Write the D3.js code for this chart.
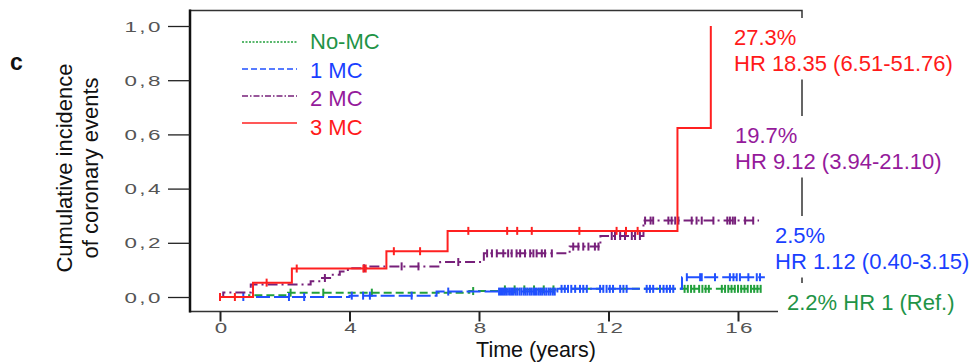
<!DOCTYPE html>
<html>
<head>
<meta charset="utf-8">
<script src="https://cdn.jsdelivr.net/npm/d3@7"></script>
<style>
  body { margin: 0; background: #fff; }
  svg { display: block; font-family: "Liberation Sans", Arial, sans-serif; }
</style>
</head>
<body>
<div id="chart"></div>
<script>
// series: step points [time, cumulative incidence] and censoring times
var groups = ["No-MC", "1 MC", "2 MC", "3 MC"];

var noMcSteps = [[0, 0], [0.9, 0.006], [2.1, 0.016], [7.7, 0.022], [8.7, 0.028], [10.5, 0.03], [16.78, 0.03]];
var oneMcSteps = [[0, 0], [4.0, 0.005], [6.69, 0.02], [10.42, 0.03], [14.27, 0.073], [16.83, 0.073]];
var twoMcSteps = [[0, 0], [0.1, 0.017], [0.95, 0.046], [2.8, 0.058], [3.1, 0.07], [3.4, 0.082], [3.7, 0.094],
  [3.95, 0.106], [4.55, 0.113], [6.8, 0.129], [8.15, 0.161], [10.8, 0.186], [11.75, 0.225], [13.08, 0.282], [16.65, 0.282]];
var threeMcSteps = [[0, 0], [1.02, 0.053], [2.22, 0.105], [5.14, 0.169], [7.03, 0.244], [14.13, 0.624], [15.16, 1.0]];

var noMcCensor = [2.18, 3.19, 4.69, 7.82, 8.8, 9.1, 9.4, 9.7, 10.0, 10.3, 14.35, 14.45, 14.55, 14.65, 14.8, 14.9, 15.0, 15.1,
  15.5, 15.6, 15.7, 15.8, 15.9, 16.0, 16.1, 16.2, 16.3, 16.4, 16.5, 16.6, 16.7];
var oneMcCensor = [0.72, 2.13, 2.6, 4.07, 4.42, 4.63, 5.92, 7.05,
  8.62, 8.68, 8.74, 8.8, 8.86, 8.93, 8.99, 9.05, 9.12, 9.18, 9.25, 9.31, 9.38, 9.44, 9.5, 9.57, 9.63, 9.7,
  9.76, 9.83, 9.89, 9.95, 10.02, 10.08, 10.15, 10.21, 10.28, 10.34,
  10.55, 10.65, 10.75, 10.85, 10.97, 11.12, 11.22, 11.33, 11.74, 11.84, 11.94, 12.04, 12.14, 12.36, 12.46, 12.56,
  13.18, 13.28, 13.38, 13.59, 13.7, 13.8, 13.9, 14.0,
  14.42, 14.83, 14.88, 15.29, 15.75, 15.86, 15.96, 16.06, 16.32, 16.58, 16.68];
var twoMcCensor = [3.24, 4.45, 5.61, 6.13, 7.36, 8.25, 8.4, 8.55, 8.75, 8.9, 9.01, 9.16, 9.27, 9.42, 9.58, 9.68, 9.78, 9.94,
  10.04, 10.25, 10.91, 11.07, 11.22, 11.38, 11.58, 11.69, 12.1, 12.2, 12.36, 12.51, 12.72, 12.82, 12.97,
  13.13, 13.3, 13.38, 13.85, 13.95, 14.06, 14.16, 14.57, 14.72, 14.88, 15.24, 15.67, 15.75, 15.84, 15.91, 16.22, 16.47];
var threeMcCensor = [0, 0.46, 1.44, 2.37, 4.43, 4.5, 5.37, 6.18, 7.67, 8.87, 9.18, 9.63, 11.1, 12.25, 12.54, 12.9];

var endLabels = [
  ["27.3%", "HR 18.35 (6.51-51.76)"],
  ["19.7%", "HR 9.12 (3.94-21.10)"],
  ["2.5%", "HR 1.12 (0.40-3.15)"],
  ["2.2% HR 1 (Ref.)"]
];

var xTicks = [0, 4, 8, 12, 16];
var yTicks = [0, 0.2, 0.4, 0.6, 0.8, 1.0];

var width = 970, height = 362;

var svg = d3.select("#chart").append("svg")
  .attr("width", width)
  .attr("height", height);

var x = d3.scaleLinear().domain([0, 16]).range([220, 738]);
var y = d3.scaleLinear().domain([0, 1]).range([297, 26]);

var frame = { left: 190, right: 802, top: 10.5, bottom: 311.5 };

var series = [
  { steps: noMcSteps, censor: noMcCensor, color: "#22a03c", dash: "8,4", legendDash: "2,1.5", text: "#1f9447" },
  { steps: oneMcSteps, censor: oneMcCensor, color: "#2050ff", dash: "14,4", legendDash: "6,3", text: "#1a3fff" },
  { steps: twoMcSteps, censor: twoMcCensor, color: "#77207a", dash: "10,4,2,4", legendDash: "6,2,1.5,2", text: "#951a9b" },
  { steps: threeMcSteps, censor: threeMcCensor, color: "#ff2020", dash: null, legendDash: null, text: "#ff1a1a" }
];

// frame
svg.append("path")
  .attr("d", "M" + frame.left + "," + frame.top + "H" + frame.right + "V" + frame.bottom + "H" + frame.left + "Z")
  .attr("fill", "none")
  .attr("stroke", "#333")
  .attr("stroke-width", 1.5);
svg.append("line")
  .attr("x1", frame.left).attr("x2", frame.left)
  .attr("y1", frame.top - 1).attr("y2", frame.bottom + 1)
  .attr("stroke", "#111")
  .attr("stroke-width", 2.5);

// axes
var yAxis = d3.axisLeft(y)
  .tickValues(yTicks)
  .tickSize(22)
  .tickFormat(function(d) { return d.toFixed(1).replace(".", ","); });

var gy = svg.append("g")
  .attr("transform", "translate(" + frame.left + ",0)")
  .call(yAxis);
gy.select(".domain").remove();
gy.selectAll(".tick line").attr("stroke", "#222").attr("stroke-width", 1.3);
gy.selectAll(".tick text")
  .attr("x", -17)
  .attr("dy", "0.36em")
  .attr("transform", "scale(1.6,1)")
  .style("font-family", "Liberation Sans, Arial, sans-serif")
  .style("font-size", "14px")
  .style("letter-spacing", "1.5px")
  .attr("fill", "#555");

var xAxis = d3.axisBottom(x)
  .tickValues(xTicks)
  .tickSize(10)
  .tickFormat(d3.format("d"));

var gx = svg.append("g")
  .attr("transform", "translate(0," + frame.bottom + ")")
  .call(xAxis);
gx.select(".domain").remove();
gx.selectAll(".tick line").attr("stroke", "#222").attr("stroke-width", 2);
gx.selectAll(".tick text")
  .attr("x", 0)
  .attr("y", 22)
  .attr("dy", 0)
  .attr("dx", 1)
  .attr("transform", "scale(1.6,1)")
  .style("font-family", "Liberation Sans, Arial, sans-serif")
  .style("font-size", "14px")
  .style("letter-spacing", "1.5px")
  .attr("fill", "#555");

// axis titles
svg.append("text")
  .attr("x", 536).attr("y", 356.5)
  .attr("text-anchor", "middle")
  .style("font-size", "21.5px")
  .attr("fill", "#111")
  .text("Time (years)");

var yTitle = svg.append("text")
  .attr("transform", "translate(0,168) rotate(-90)")
  .attr("text-anchor", "middle")
  .style("font-size", "22px")
  .attr("fill", "#111");
yTitle.append("tspan").attr("x", 0).attr("y", 72).text("Cumulative incidence");
yTitle.append("tspan").attr("x", 0).attr("y", 97.5).text("of coronary events");

svg.append("text")
  .attr("x", 10).attr("y", 70)
  .style("font-size", "23px")
  .style("font-weight", "bold")
  .attr("fill", "#111")
  .text("c");

// curves
var line = d3.line()
  .x(function(d) { return x(d[0]); })
  .y(function(d) { return y(d[1]); })
  .curve(d3.curveStepAfter);

function valueAt(steps, t) {
  var v = 0;
  steps.forEach(function(s) { if (s[0] <= t) v = s[1]; });
  return v;
}

series.forEach(function(s) {
  svg.append("path")
    .datum(s.steps)
    .attr("d", line)
    .attr("fill", "none")
    .attr("stroke", s.color)
    .attr("stroke-width", 2)
    .attr("stroke-dasharray", s.dash);

  svg.selectAll(null)
    .data(s.censor)
    .enter().append("line")
    .attr("x1", function(d) { return x(d); })
    .attr("x2", function(d) { return x(d); })
    .attr("y1", function(d) { return y(valueAt(s.steps, d)) - 4; })
    .attr("y2", function(d) { return y(valueAt(s.steps, d)) + 4; })
    .attr("stroke", s.color)
    .attr("stroke-width", 2);
});

// legend
var legend = svg.append("g");
groups.forEach(function(g, i) {
  var s = series[i];
  legend.append("line")
    .attr("x1", 242).attr("x2", 297)
    .attr("y1", 42 + i * 27).attr("y2", 42 + i * 27)
    .attr("stroke", s.color)
    .attr("stroke-width", 1.5)
    .attr("stroke-dasharray", s.legendDash);
  legend.append("text")
    .attr("x", 310).attr("y", 49.3 + i * 28.5)
    .style("font-size", "22px")
    .attr("fill", s.text)
    .text(g);
});

// end-of-follow-up labels with white backing (they cut the right frame)
var labelPos = [
  { x: 734, y: 45, color: series[3].text },
  { x: 735, y: 143, color: series[2].text },
  { x: 775, y: 243, color: series[1].text },
  { x: 787, y: 310, color: series[0].text, padLeft: 9 }
];

endLabels.forEach(function(lines, i) {
  var p = labelPos[i];
  var g = svg.append("g");
  var bg = g.append("rect").attr("fill", "#fff");
  var t = g.append("text")
    .style("font-size", "22px")
    .attr("fill", p.color);
  lines.forEach(function(l, j) {
    t.append("tspan").attr("x", p.x).attr("y", p.y + j * 25.5).text(l);
  });
  var bb = t.node().getBBox();
  var padL = p.padLeft || 4;
  bg.attr("x", bb.x - padL)
    .attr("y", bb.y - 7)
    .attr("width", bb.width + padL + 6)
    .attr("height", bb.height + 11);
});
</script>
</body>
</html>
